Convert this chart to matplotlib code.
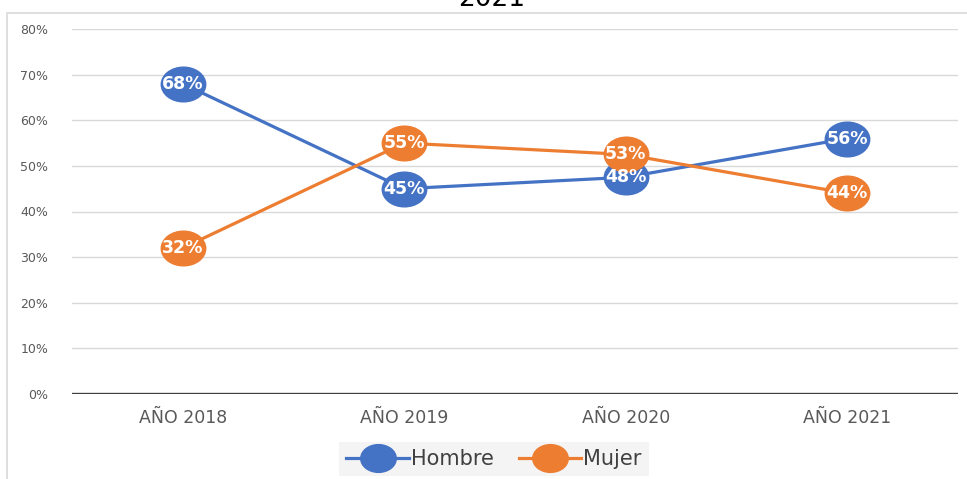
import matplotlib
matplotlib.use("Agg")
import matplotlib.pyplot as plt
from matplotlib.path import Path
from matplotlib.transforms import Affine2D
from matplotlib.patches import Rectangle
from matplotlib.ticker import FuncFormatter

# datos del grafico (porcentajes)
anios = ['AÑO 2018', 'AÑO 2019', 'AÑO 2020', 'AÑO 2021']
hombre = [68, 45, 47.5, 56]
mujer = [32, 55, 52.5, 44]
y_ticks = [0, 10, 20, 30, 40, 50, 60, 70, 80]

azul = '#4472C4'
naranja = '#ED7D31'

# marcador eliptico como en excel
elipse = Path.unit_circle().transformed(Affine2D().scale(1.0, 0.78))

fig = plt.figure(figsize=(9.67, 4.79), dpi=100)
ax = fig.add_axes([72/967, 1-394/479, (958-72)/967, (394-29)/479])

x = list(range(len(anios)))
ax.plot(x, hombre, color=azul, lw=2.3, marker=elipse, markersize=32, label='Hombre', zorder=3)
ax.plot(x, mujer, color=naranja, lw=2.3, marker=elipse, markersize=32, label='Mujer', zorder=3)

for serie in [hombre, mujer]:
    for i, v in enumerate(serie):
        ax.text(i, v, '%d%%' % int(v + 0.5), color='white', fontsize=12.5, fontweight='bold',
                ha='center', va='center', zorder=4)

ax.set_xlim(-0.5, len(anios) - 0.5)
ax.set_ylim(0, 80)
ax.set_yticks(y_ticks)
ax.yaxis.set_major_formatter(FuncFormatter(lambda v, p: '%d%%' % v))
ax.set_xticks(x)
ax.set_xticklabels(anios)

ax.grid(axis='y', color='#d9d9d9', lw=1)
ax.axhline(0, color='#404040', lw=2.4, zorder=2)
for s in ax.spines.values():
    s.set_visible(False)
ax.tick_params(axis='y', length=0, pad=17, labelsize=9, labelcolor='#595959')
ax.tick_params(axis='x', length=0, pad=11, labelsize=12.5, labelcolor='#595959')
ax.set_axisbelow(True)

# leyenda abajo
leg = fig.legend(loc='center', bbox_to_anchor=(494/967, 1-459/479), ncol=2, frameon=True,
                 fontsize=15, handlelength=3.0, handletextpad=0.1, columnspacing=1.2,
                 borderpad=0.35, markerscale=0.8)
leg.get_frame().set_facecolor('#f2f2f2')
leg.get_frame().set_edgecolor('none')
leg.get_frame().set_boxstyle('square', pad=0)
for t in leg.get_texts():
    t.set_color('#404040')

# titulo recortado arriba
fig.text(492/967, 1-6/479, '2021', fontsize=19, color='black', ha='center', va='baseline')

# borde del area del grafico
fig.add_artist(Rectangle((7/967, -0.2), 1.2, 1.2 - 12.5/479, transform=fig.transFigure,
                         fill=False, edgecolor='#d9d9d9', lw=1.2))

fig.savefig('out.png', dpi=100)
